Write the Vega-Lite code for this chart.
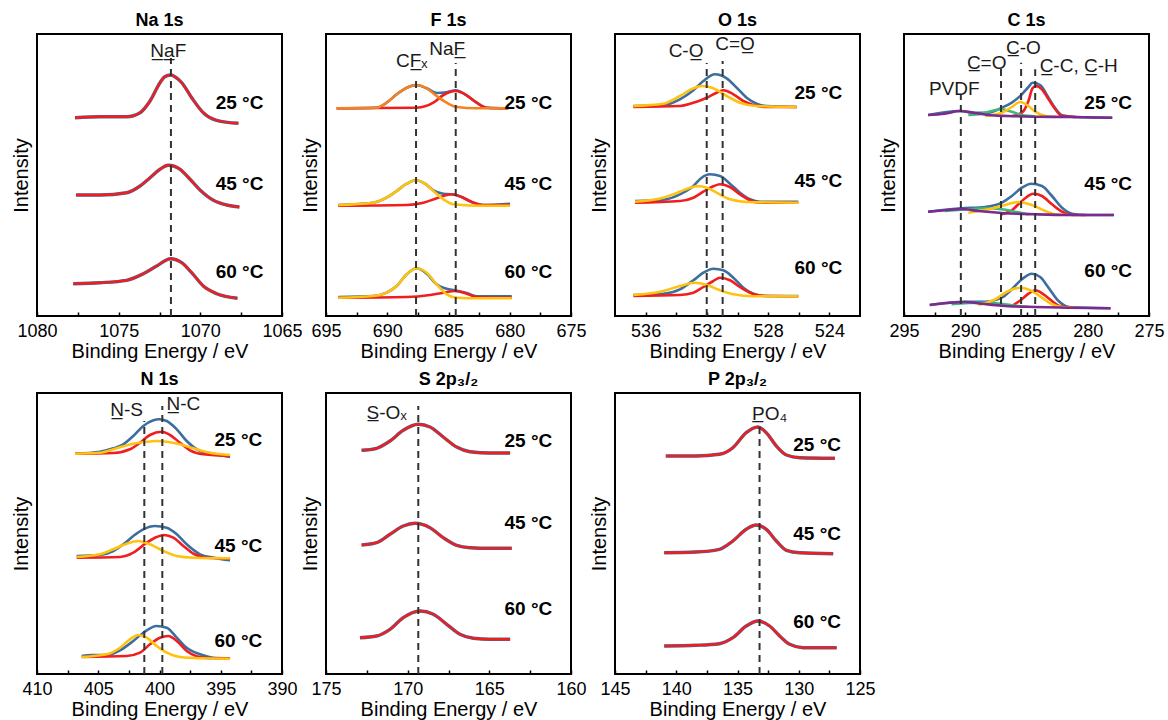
{
"$schema":"https://vega.github.io/schema/vega-lite/v6.json",
"padding":{"left":10,"top":11,"right":5,"bottom":5},
"config":{
 "font":"Liberation Sans",
 "view":{"stroke":"#000","strokeWidth":2},
 "axisX":{"domain":false,"grid":false,"tickColor":"#000","tickSize":-4,"tickWidth":1.5,"labelFontSize":18,"labelColor":"#000","labelFlush":false,"labelOverlap":false,"labelPadding":10,"titleFontSize":20,"titleFontWeight":"normal","titleColor":"#000","titlePadding":1},
 "axisY":{"domain":false,"grid":false,"ticks":false,"labels":false,"titleFontSize":20,"titleFontWeight":"normal","titleColor":"#000","titlePadding":6},
 "title":{"fontSize":18,"fontWeight":"bold","offset":4,"color":"#000"},
 "line":{"strokeWidth":2.6,"interpolate":"monotone"},
 "text":{"color":"#1a1a1a","baseline":"middle","align":"center"}
},
"bounds":"flush",
"columns":4,
"spacing":{"row":77,"column":44},
"concat":[
{
 "width":245,"height":282,"title":"Na 1s",
 "data":{"values":[
 {"t":"25","x":1077.67,"y":198.3},{"t":"25","x":1076.14,"y":199.3},{"t":"25","x":1074.51,"y":199.3},{"t":"25","x":1073.69,"y":203.3},{"t":"25","x":1073.08,"y":215},{"t":"25","x":1072.47,"y":233.3},{"t":"25","x":1072.2,"y":239},{"t":"25","x":1071.82,"y":241},{"t":"25","x":1071.35,"y":236.7},{"t":"25","x":1071.14,"y":233.3},{"t":"25","x":1070.53,"y":218.3},{"t":"25","x":1069.82,"y":203.3},{"t":"25","x":1069.0,"y":195.7},{"t":"25","x":1067.67,"y":192.7},
 {"t":"45","x":1077.61,"y":121},{"t":"45","x":1076.14,"y":121},{"t":"45","x":1074.51,"y":123.3},{"t":"45","x":1073.69,"y":130},{"t":"45","x":1073.08,"y":138.3},{"t":"45","x":1072.47,"y":146.7},{"t":"45","x":1071.96,"y":150.7},{"t":"45","x":1071.24,"y":146.7},{"t":"45","x":1070.63,"y":136.7},{"t":"45","x":1070.02,"y":126},{"t":"45","x":1069.2,"y":115.7},{"t":"45","x":1068.39,"y":111},{"t":"45","x":1067.61,"y":109},
 {"t":"60","x":1077.78,"y":32.3},{"t":"60","x":1076.14,"y":33.3},{"t":"60","x":1074.51,"y":35.7},{"t":"60","x":1073.49,"y":42.3},{"t":"60","x":1072.67,"y":50},{"t":"60","x":1071.82,"y":57.3},{"t":"60","x":1071.14,"y":53.3},{"t":"60","x":1070.53,"y":43.3},{"t":"60","x":1069.82,"y":30},{"t":"60","x":1069.0,"y":22.3},{"t":"60","x":1067.73,"y":17.7}
 ]},
 "encoding":{
  "x":{"field":"x","type":"quantitative","scale":{"domain":[1065,1080],"reverse":true,"nice":false,"zero":false},"axis":{"title":"Binding Energy / eV","format":"d","values":[1080,1077.5,1075,1072.5,1070,1067.5,1065],"labelExpr":"datum.value % 5 == 0 ? datum.label : ''"}},
  "y":{"field":"y","type":"quantitative","scale":{"domain":[0,282],"nice":false,"zero":false},"axis":{"title":"Intensity"}}
 },
 "layer":[
  {"mark":{"type":"line","color":"#3C6E9F","strokeWidth":3.4},"encoding":{"detail":{"field":"t"}}},
  {"mark":{"type":"line","color":"#F01E1E","strokeWidth":2.4},"encoding":{"detail":{"field":"t"}}},
  {"data":{"values":[{"x":1071.8,"y":0,"y2":258}]},"mark":{"type":"rule","strokeDash":[7,5],"strokeWidth":2,"color":"#333"},"encoding":{"y2":{"field":"y2"}}},
  {"data":{"values":[{"x":1067.6,"y":213,"l":"25 °C"},{"x":1067.6,"y":132.3,"l":"45 °C"},{"x":1067.6,"y":44.3,"l":"60 °C"}]},"mark":{"type":"text","fontWeight":"bold","fontSize":19,"color":"#000"},"encoding":{"text":{"field":"l"}}},
  {"data":{"values":[{"x":1071.96,"y":265,"l":"N\u0332a\u0332F"}]},"mark":{"type":"text","fontSize":19},"encoding":{"text":{"field":"l"}}}
 ]
},
{
 "width":245,"height":282,"title":"F 1s",
 "data":{"values":[
 {"t":"25","s":"blue","x":694.13,"y":207.7},{"t":"25","s":"blue","x":690.86,"y":208.3},{"t":"25","s":"blue","x":690.05,"y":213.3},{"t":"25","s":"blue","x":689.23,"y":221.7},{"t":"25","s":"blue","x":688.41,"y":228.3},{"t":"25","s":"blue","x":687.65,"y":231},{"t":"25","s":"blue","x":686.78,"y":227.7},{"t":"25","s":"blue","x":685.97,"y":223},{"t":"25","s":"blue","x":685.15,"y":223.7},{"t":"25","s":"blue","x":684.41,"y":225.7},{"t":"25","s":"blue","x":683.52,"y":220.7},{"t":"25","s":"blue","x":682.7,"y":213.3},{"t":"25","s":"blue","x":681.88,"y":208.3},{"t":"25","s":"blue","x":680.12,"y":207.7},
 {"t":"25","s":"red","x":694.13,"y":207.7},{"t":"25","s":"red","x":687.6,"y":208.3},{"t":"25","s":"red","x":686.24,"y":213.3},{"t":"25","s":"red","x":685.42,"y":221},{"t":"25","s":"red","x":684.41,"y":225},{"t":"25","s":"red","x":683.52,"y":220.7},{"t":"25","s":"red","x":682.7,"y":213.3},{"t":"25","s":"red","x":681.88,"y":208.3},{"t":"25","s":"red","x":680.12,"y":207.7},
 {"t":"25","s":"orange","x":694.13,"y":207.7},{"t":"25","s":"orange","x":690.86,"y":208.3},{"t":"25","s":"orange","x":690.05,"y":213.3},{"t":"25","s":"orange","x":689.23,"y":221.7},{"t":"25","s":"orange","x":688.41,"y":228.3},{"t":"25","s":"orange","x":687.65,"y":231},{"t":"25","s":"orange","x":686.78,"y":227.7},{"t":"25","s":"orange","x":685.97,"y":220},{"t":"25","s":"orange","x":685.15,"y":213.3},{"t":"25","s":"orange","x":684.33,"y":209},{"t":"25","s":"orange","x":682.7,"y":207.7},{"t":"25","s":"orange","x":680.12,"y":207.7},
 {"t":"45","s":"blue","x":694.0,"y":111},{"t":"45","s":"blue","x":691.14,"y":113.3},{"t":"45","s":"blue","x":690.05,"y":118.3},{"t":"45","s":"blue","x":689.23,"y":125},{"t":"45","s":"blue","x":688.41,"y":132.3},{"t":"45","s":"blue","x":687.65,"y":135.7},{"t":"45","s":"blue","x":686.92,"y":132.3},{"t":"45","s":"blue","x":686.24,"y":125.7},{"t":"45","s":"blue","x":685.42,"y":122.3},{"t":"45","s":"blue","x":684.74,"y":121.7},{"t":"45","s":"blue","x":683.93,"y":119},{"t":"45","s":"blue","x":683.11,"y":114},{"t":"45","s":"blue","x":682.16,"y":111},{"t":"45","s":"blue","x":679.98,"y":112.3},
 {"t":"45","s":"red","x":694.0,"y":110.3},{"t":"45","s":"red","x":688.41,"y":111},{"t":"45","s":"red","x":687.05,"y":113.3},{"t":"45","s":"red","x":685.97,"y":117.7},{"t":"45","s":"red","x":685.15,"y":121},{"t":"45","s":"red","x":684.74,"y":121.7},{"t":"45","s":"red","x":683.93,"y":119},{"t":"45","s":"red","x":683.11,"y":114},{"t":"45","s":"red","x":682.16,"y":111},{"t":"45","s":"red","x":679.98,"y":111},
 {"t":"45","s":"yellow","x":694.0,"y":111},{"t":"45","s":"yellow","x":691.14,"y":113.3},{"t":"45","s":"yellow","x":690.05,"y":118.3},{"t":"45","s":"yellow","x":689.23,"y":125},{"t":"45","s":"yellow","x":688.41,"y":132.3},{"t":"45","s":"yellow","x":687.65,"y":135.7},{"t":"45","s":"yellow","x":686.92,"y":132.3},{"t":"45","s":"yellow","x":686.24,"y":125},{"t":"45","s":"yellow","x":685.42,"y":116.7},{"t":"45","s":"yellow","x":684.61,"y":111.7},{"t":"45","s":"yellow","x":682.7,"y":110.3},{"t":"45","s":"yellow","x":679.98,"y":110.3},
 {"t":"60","s":"blue","x":694.0,"y":19},{"t":"60","s":"blue","x":691.14,"y":20},{"t":"60","s":"blue","x":690.05,"y":23.3},{"t":"60","s":"blue","x":689.23,"y":30},{"t":"60","s":"blue","x":688.41,"y":41.7},{"t":"60","s":"blue","x":687.6,"y":47.7},{"t":"60","s":"blue","x":686.78,"y":42.3},{"t":"60","s":"blue","x":685.97,"y":31.7},{"t":"60","s":"blue","x":685.29,"y":27.7},{"t":"60","s":"blue","x":684.47,"y":25.7},{"t":"60","s":"blue","x":683.52,"y":23},{"t":"60","s":"blue","x":682.7,"y":19.7},{"t":"60","s":"blue","x":679.84,"y":19.7},
 {"t":"60","s":"red","x":694.0,"y":18.3},{"t":"60","s":"red","x":688.41,"y":19},{"t":"60","s":"red","x":686.51,"y":21},{"t":"60","s":"red","x":685.42,"y":23.3},{"t":"60","s":"red","x":684.47,"y":25},{"t":"60","s":"red","x":683.52,"y":22.3},{"t":"60","s":"red","x":682.7,"y":19},{"t":"60","s":"red","x":679.84,"y":18.3},
 {"t":"60","s":"yellow","x":694.0,"y":18.3},{"t":"60","s":"yellow","x":691.14,"y":20},{"t":"60","s":"yellow","x":690.05,"y":23.3},{"t":"60","s":"yellow","x":689.23,"y":30},{"t":"60","s":"yellow","x":688.41,"y":41.7},{"t":"60","s":"yellow","x":687.6,"y":47.7},{"t":"60","s":"yellow","x":686.78,"y":43.3},{"t":"60","s":"yellow","x":685.97,"y":31.7},{"t":"60","s":"yellow","x":685.15,"y":21.7},{"t":"60","s":"yellow","x":684.33,"y":18.3},{"t":"60","s":"yellow","x":682.7,"y":17.7},{"t":"60","s":"yellow","x":679.84,"y":17.7}
 ]},
 "encoding":{
  "x":{"field":"x","type":"quantitative","scale":{"domain":[675,695],"reverse":true,"nice":false,"zero":false},"axis":{"title":"Binding Energy / eV","format":"d","values":[695,692.5,690,687.5,685,682.5,680,677.5,675],"labelExpr":"datum.value % 5 == 0 ? datum.label : ''"}},
  "y":{"field":"y","type":"quantitative","scale":{"domain":[0,282],"nice":false,"zero":false},"axis":{"title":"Intensity"}}
 },
 "layer":[
  {"mark":"line","encoding":{"color":{"field":"s","type":"nominal","scale":{"domain":["blue","red","green","yellow","orange","purple"],"range":["#3C6E9F","#F01E1E","#3DB87A","#FFC20E","#F5821F","#7B2A8E"]},"legend":null},"detail":{"field":"t"}}},
  {"data":{"values":[{"x":687.65,"y":0,"y2":240},{"x":684.41,"y":0,"y2":253}]},"mark":{"type":"rule","strokeDash":[7,5],"strokeWidth":2,"color":"#333"},"encoding":{"y2":{"field":"y2"}}},
  {"data":{"values":[{"x":678.48,"y":213.3,"l":"25 °C"},{"x":678.48,"y":132.3,"l":"45 °C"},{"x":678.48,"y":44.3,"l":"60 °C"}]},"mark":{"type":"text","fontWeight":"bold","fontSize":19,"color":"#000"},"encoding":{"text":{"field":"l"}}},
  {"data":{"values":[{"x":688.0,"y":255,"l":"CF\u0332\u2093"},{"x":685.1,"y":266.7,"l":"NaF\u0332"}]},"mark":{"type":"text","fontSize":19},"encoding":{"text":{"field":"l"}}}
 ]
},
{
 "width":245,"height":282,"title":"O 1s",
 "data":{"values":[
 {"t":"25","s":"blue","x":536.8,"y":210},{"t":"25","s":"blue","x":534.84,"y":211},{"t":"25","s":"blue","x":533.76,"y":216.7},{"t":"25","s":"blue","x":532.88,"y":225.7},{"t":"25","s":"blue","x":532.23,"y":235},{"t":"25","s":"blue","x":531.47,"y":241.7},{"t":"25","s":"blue","x":530.71,"y":237.7},{"t":"25","s":"blue","x":530.05,"y":228.3},{"t":"25","s":"blue","x":529.4,"y":218.3},{"t":"25","s":"blue","x":528.75,"y":212.3},{"t":"25","s":"blue","x":528.1,"y":210},{"t":"25","s":"blue","x":526.14,"y":209},
 {"t":"25","s":"red","x":536.8,"y":209},{"t":"25","s":"red","x":533.76,"y":210},{"t":"25","s":"red","x":532.67,"y":214.3},{"t":"25","s":"red","x":532.01,"y":218.3},{"t":"25","s":"red","x":531.36,"y":223.3},{"t":"25","s":"red","x":530.93,"y":225.7},{"t":"25","s":"red","x":530.27,"y":221.7},{"t":"25","s":"red","x":529.62,"y":215},{"t":"25","s":"red","x":528.97,"y":211},{"t":"25","s":"red","x":528.1,"y":209},{"t":"25","s":"red","x":526.14,"y":209},
 {"t":"25","s":"yellow","x":536.8,"y":210},{"t":"25","s":"yellow","x":534.84,"y":212.3},{"t":"25","s":"yellow","x":533.76,"y":220},{"t":"25","s":"yellow","x":532.88,"y":227.7},{"t":"25","s":"yellow","x":532.34,"y":230},{"t":"25","s":"yellow","x":531.58,"y":227.7},{"t":"25","s":"yellow","x":530.71,"y":220},{"t":"25","s":"yellow","x":529.84,"y":213.3},{"t":"25","s":"yellow","x":528.75,"y":210},{"t":"25","s":"yellow","x":526.14,"y":209},
 {"t":"45","s":"blue","x":536.69,"y":115},{"t":"45","s":"blue","x":534.84,"y":116.3},{"t":"45","s":"blue","x":533.76,"y":121.7},{"t":"45","s":"blue","x":532.88,"y":130},{"t":"45","s":"blue","x":532.34,"y":138.3},{"t":"45","s":"blue","x":531.8,"y":141.7},{"t":"45","s":"blue","x":531.14,"y":140},{"t":"45","s":"blue","x":530.49,"y":132.3},{"t":"45","s":"blue","x":529.84,"y":123.3},{"t":"45","s":"blue","x":529.18,"y":116.7},{"t":"45","s":"blue","x":528.53,"y":114.3},{"t":"45","s":"blue","x":526.03,"y":114.3},
 {"t":"45","s":"red","x":536.69,"y":113.3},{"t":"45","s":"red","x":533.76,"y":115},{"t":"45","s":"red","x":532.88,"y":118.3},{"t":"45","s":"red","x":532.23,"y":124.3},{"t":"45","s":"red","x":531.58,"y":129.7},{"t":"45","s":"red","x":531.14,"y":131.7},{"t":"45","s":"red","x":530.49,"y":129},{"t":"45","s":"red","x":529.84,"y":121.7},{"t":"45","s":"red","x":529.18,"y":115.7},{"t":"45","s":"red","x":528.53,"y":113.3},{"t":"45","s":"red","x":526.03,"y":113.3},
 {"t":"45","s":"yellow","x":536.69,"y":114.3},{"t":"45","s":"yellow","x":534.84,"y":118.3},{"t":"45","s":"yellow","x":533.76,"y":124.3},{"t":"45","s":"yellow","x":533.1,"y":128.3},{"t":"45","s":"yellow","x":532.56,"y":129.7},{"t":"45","s":"yellow","x":532.01,"y":128.3},{"t":"45","s":"yellow","x":531.36,"y":123.3},{"t":"45","s":"yellow","x":530.49,"y":116.7},{"t":"45","s":"yellow","x":529.4,"y":114},{"t":"45","s":"yellow","x":526.03,"y":113.3},
 {"t":"60","s":"blue","x":536.8,"y":21},{"t":"60","s":"blue","x":534.84,"y":22.3},{"t":"60","s":"blue","x":533.76,"y":26.7},{"t":"60","s":"blue","x":532.88,"y":35.7},{"t":"60","s":"blue","x":532.23,"y":43.3},{"t":"60","s":"blue","x":531.58,"y":47.3},{"t":"60","s":"blue","x":530.93,"y":45.7},{"t":"60","s":"blue","x":530.27,"y":38.3},{"t":"60","s":"blue","x":529.62,"y":28.3},{"t":"60","s":"blue","x":528.97,"y":22.3},{"t":"60","s":"blue","x":528.1,"y":20},{"t":"60","s":"blue","x":526.03,"y":20},
 {"t":"60","s":"red","x":536.8,"y":20},{"t":"60","s":"red","x":533.76,"y":21},{"t":"60","s":"red","x":532.88,"y":23.3},{"t":"60","s":"red","x":532.23,"y":29},{"t":"60","s":"red","x":531.58,"y":35},{"t":"60","s":"red","x":531.14,"y":38.3},{"t":"60","s":"red","x":530.49,"y":35.7},{"t":"60","s":"red","x":529.84,"y":29},{"t":"60","s":"red","x":529.18,"y":23.3},{"t":"60","s":"red","x":528.53,"y":20.3},{"t":"60","s":"red","x":526.03,"y":19.7},
 {"t":"60","s":"yellow","x":536.8,"y":21},{"t":"60","s":"yellow","x":534.84,"y":25},{"t":"60","s":"yellow","x":533.76,"y":30},{"t":"60","s":"yellow","x":532.78,"y":33.3},{"t":"60","s":"yellow","x":532.01,"y":31},{"t":"60","s":"yellow","x":531.14,"y":25.7},{"t":"60","s":"yellow","x":530.27,"y":21.7},{"t":"60","s":"yellow","x":528.97,"y":19.7},{"t":"60","s":"yellow","x":526.03,"y":19.7}
 ]},
 "encoding":{
  "x":{"field":"x","type":"quantitative","scale":{"domain":[522,538],"reverse":true,"nice":false,"zero":false},"axis":{"title":"Binding Energy / eV","format":"d","values":[536,534,532,530,528,526,524],"labelExpr":"datum.value % 4 == 0 ? datum.label : ''"}},
  "y":{"field":"y","type":"quantitative","scale":{"domain":[0,282],"nice":false,"zero":false},"axis":{"title":"Intensity"}}
 },
 "layer":[
  {"mark":"line","encoding":{"color":{"field":"s","type":"nominal","scale":{"domain":["blue","red","green","yellow","orange","purple"],"range":["#3C6E9F","#F01E1E","#3DB87A","#FFC20E","#F5821F","#7B2A8E"]},"legend":null},"detail":{"field":"t"}}},
  {"data":{"values":[{"x":532.01,"y":0,"y2":253},{"x":530.97,"y":0,"y2":255}]},"mark":{"type":"rule","strokeDash":[7,5],"strokeWidth":2,"color":"#333"},"encoding":{"y2":{"field":"y2"}}},
  {"data":{"values":[{"x":524.72,"y":223.3,"l":"25 °C"},{"x":524.72,"y":135,"l":"45 °C"},{"x":524.72,"y":48.3,"l":"60 °C"}]},"mark":{"type":"text","fontWeight":"bold","fontSize":19,"color":"#000"},"encoding":{"text":{"field":"l"}}},
  {"data":{"values":[{"x":533.36,"y":265,"l":"C-O\u0332"},{"x":530.16,"y":271.7,"l":"C=O\u0332"}]},"mark":{"type":"text","fontSize":19},"encoding":{"text":{"field":"l"}}}
 ]
},
{
 "width":245,"height":282,"title":"C 1s",
 "data":{"values":[
 {"t":"25","s":"blue","x":293.03,"y":201},{"t":"25","s":"blue","x":290.44,"y":205},{"t":"25","s":"blue","x":289.21,"y":203.3},{"t":"25","s":"blue","x":288.11,"y":203.3},{"t":"25","s":"blue","x":287.02,"y":208.3},{"t":"25","s":"blue","x":286.2,"y":213.3},{"t":"25","s":"blue","x":285.38,"y":221.7},{"t":"25","s":"blue","x":284.84,"y":229},{"t":"25","s":"blue","x":284.51,"y":233.3},{"t":"25","s":"blue","x":283.88,"y":231},{"t":"25","s":"blue","x":283.2,"y":218.3},{"t":"25","s":"blue","x":282.65,"y":207.7},{"t":"25","s":"blue","x":282.1,"y":200.7},{"t":"25","s":"blue","x":281.01,"y":199},{"t":"25","s":"blue","x":278.0,"y":198.3},
 {"t":"25","s":"red","x":286.2,"y":200},{"t":"25","s":"red","x":285.38,"y":203.3},{"t":"25","s":"red","x":284.84,"y":215},{"t":"25","s":"red","x":284.51,"y":227.7},{"t":"25","s":"red","x":284.23,"y":230},{"t":"25","s":"red","x":283.74,"y":226.7},{"t":"25","s":"red","x":283.2,"y":216.7},{"t":"25","s":"red","x":282.65,"y":206.7},{"t":"25","s":"red","x":282.1,"y":200},{"t":"25","s":"red","x":281.01,"y":199},
 {"t":"25","s":"green","x":289.75,"y":201},{"t":"25","s":"green","x":288.66,"y":202.3},{"t":"25","s":"green","x":287.84,"y":205},{"t":"25","s":"green","x":287.02,"y":206.7},{"t":"25","s":"green","x":286.2,"y":204.3},{"t":"25","s":"green","x":285.38,"y":201},{"t":"25","s":"green","x":284.29,"y":199.7},
 {"t":"25","s":"yellow","x":288.39,"y":200},{"t":"25","s":"yellow","x":287.02,"y":203.3},{"t":"25","s":"yellow","x":286.2,"y":209},{"t":"25","s":"yellow","x":285.52,"y":214},{"t":"25","s":"yellow","x":284.84,"y":210},{"t":"25","s":"yellow","x":284.29,"y":204.3},{"t":"25","s":"yellow","x":283.47,"y":200},{"t":"25","s":"yellow","x":282.65,"y":199},
 {"t":"25","s":"purple","x":293.03,"y":201},{"t":"25","s":"purple","x":291.67,"y":202.3},{"t":"25","s":"purple","x":290.44,"y":205},{"t":"25","s":"purple","x":289.21,"y":203},{"t":"25","s":"purple","x":288.11,"y":201},{"t":"25","s":"purple","x":286.48,"y":200},{"t":"25","s":"purple","x":284.29,"y":199.3},{"t":"25","s":"purple","x":281.56,"y":199},{"t":"25","s":"purple","x":278.0,"y":198.3},
 {"t":"45","s":"blue","x":293.03,"y":104.3},{"t":"45","s":"blue","x":290.3,"y":107.7},{"t":"45","s":"blue","x":288.39,"y":109},{"t":"45","s":"blue","x":287.02,"y":113.3},{"t":"45","s":"blue","x":286.2,"y":120},{"t":"45","s":"blue","x":285.38,"y":128.3},{"t":"45","s":"blue","x":284.62,"y":132.3},{"t":"45","s":"blue","x":283.74,"y":130},{"t":"45","s":"blue","x":282.92,"y":120},{"t":"45","s":"blue","x":282.1,"y":108.3},{"t":"45","s":"blue","x":281.28,"y":102.3},{"t":"45","s":"blue","x":280.19,"y":101},{"t":"45","s":"blue","x":277.87,"y":101},
 {"t":"45","s":"red","x":287.02,"y":101.7},{"t":"45","s":"red","x":286.2,"y":105.7},{"t":"45","s":"red","x":285.38,"y":115},{"t":"45","s":"red","x":284.43,"y":122.3},{"t":"45","s":"red","x":283.74,"y":120},{"t":"45","s":"red","x":282.92,"y":111.7},{"t":"45","s":"red","x":282.1,"y":104.3},{"t":"45","s":"red","x":281.28,"y":101},{"t":"45","s":"red","x":280.19,"y":101},
 {"t":"45","s":"green","x":291.67,"y":105},{"t":"45","s":"green","x":289.75,"y":106.7},{"t":"45","s":"green","x":288.39,"y":107.7},{"t":"45","s":"green","x":287.02,"y":106.7},{"t":"45","s":"green","x":285.93,"y":104.3},{"t":"45","s":"green","x":284.84,"y":101.7},
 {"t":"45","s":"yellow","x":289.75,"y":103.3},{"t":"45","s":"yellow","x":288.11,"y":106.7},{"t":"45","s":"yellow","x":286.75,"y":111},{"t":"45","s":"yellow","x":285.66,"y":114},{"t":"45","s":"yellow","x":284.56,"y":111},{"t":"45","s":"yellow","x":283.47,"y":105},{"t":"45","s":"yellow","x":282.65,"y":101.7},{"t":"45","s":"yellow","x":281.56,"y":101},
 {"t":"45","s":"purple","x":293.03,"y":104.3},{"t":"45","s":"purple","x":291.67,"y":105.7},{"t":"45","s":"purple","x":290.3,"y":107},{"t":"45","s":"purple","x":288.93,"y":105},{"t":"45","s":"purple","x":287.02,"y":103},{"t":"45","s":"purple","x":284.29,"y":101.7},{"t":"45","s":"purple","x":281.56,"y":101},{"t":"45","s":"purple","x":277.87,"y":101},
 {"t":"60","s":"blue","x":292.9,"y":11},{"t":"60","s":"blue","x":290.03,"y":14.3},{"t":"60","s":"blue","x":288.39,"y":14.3},{"t":"60","s":"blue","x":287.02,"y":18.3},{"t":"60","s":"blue","x":286.2,"y":26.7},{"t":"60","s":"blue","x":285.38,"y":36.7},{"t":"60","s":"blue","x":284.56,"y":42.3},{"t":"60","s":"blue","x":283.88,"y":39},{"t":"60","s":"blue","x":283.2,"y":28.3},{"t":"60","s":"blue","x":282.38,"y":15},{"t":"60","s":"blue","x":281.56,"y":9},{"t":"60","s":"blue","x":278.14,"y":7.7},
 {"t":"60","s":"red","x":286.2,"y":10},{"t":"60","s":"red","x":285.38,"y":16.7},{"t":"60","s":"red","x":284.84,"y":22.3},{"t":"60","s":"red","x":284.29,"y":25.7},{"t":"60","s":"red","x":283.61,"y":21.7},{"t":"60","s":"red","x":282.92,"y":15},{"t":"60","s":"red","x":282.24,"y":9.7},{"t":"60","s":"red","x":281.01,"y":8.3},
 {"t":"60","s":"green","x":291.12,"y":11.7},{"t":"60","s":"green","x":289.75,"y":13},{"t":"60","s":"green","x":288.39,"y":13.3},{"t":"60","s":"green","x":287.02,"y":12.3},{"t":"60","s":"green","x":285.93,"y":10.3},{"t":"60","s":"green","x":284.84,"y":9},
 {"t":"60","s":"yellow","x":288.93,"y":11},{"t":"60","s":"yellow","x":287.57,"y":16.7},{"t":"60","s":"yellow","x":286.48,"y":25},{"t":"60","s":"yellow","x":285.52,"y":28.3},{"t":"60","s":"yellow","x":284.56,"y":25},{"t":"60","s":"yellow","x":283.74,"y":18.3},{"t":"60","s":"yellow","x":282.92,"y":11.7},{"t":"60","s":"yellow","x":282.1,"y":9},{"t":"60","s":"yellow","x":281.01,"y":8.3},
 {"t":"60","s":"purple","x":292.9,"y":11},{"t":"60","s":"purple","x":291.39,"y":13},{"t":"60","s":"purple","x":290.03,"y":14},{"t":"60","s":"purple","x":288.66,"y":12.3},{"t":"60","s":"purple","x":287.02,"y":10.3},{"t":"60","s":"purple","x":284.29,"y":9},{"t":"60","s":"purple","x":281.56,"y":8.3},{"t":"60","s":"purple","x":278.14,"y":7.7}
 ]},
 "encoding":{
  "x":{"field":"x","type":"quantitative","scale":{"domain":[275,295],"reverse":true,"nice":false,"zero":false},"axis":{"title":"Binding Energy / eV","format":"d","values":[295,292.5,290,287.5,285,282.5,280,277.5,275],"labelExpr":"datum.value % 5 == 0 ? datum.label : ''"}},
  "y":{"field":"y","type":"quantitative","scale":{"domain":[0,282],"nice":false,"zero":false},"axis":{"title":"Intensity"}}
 },
 "layer":[
  {"mark":"line","encoding":{"color":{"field":"s","type":"nominal","scale":{"domain":["blue","red","green","yellow","orange","purple"],"range":["#3C6E9F","#F01E1E","#3DB87A","#FFC20E","#F5821F","#7B2A8E"]},"legend":null},"detail":{"field":"t"}}},
  {"data":{"values":[{"x":290.36,"y":0,"y2":221.7},{"x":287.08,"y":0,"y2":248.3},{"x":285.44,"y":0,"y2":253.3},{"x":284.29,"y":0,"y2":246.7}]},"mark":{"type":"rule","strokeDash":[7,5],"strokeWidth":2,"color":"#333"},"encoding":{"y2":{"field":"y2"}}},
  {"data":{"values":[{"x":278.33,"y":213.3,"l":"25 °C"},{"x":278.33,"y":132.3,"l":"45 °C"},{"x":278.33,"y":45,"l":"60 °C"}]},"mark":{"type":"text","fontWeight":"bold","fontSize":19,"color":"#000"},"encoding":{"text":{"field":"l"}}},
  {"data":{"values":[{"x":290.9,"y":226.7,"l":"PVDF"},{"x":288.25,"y":253.3,"l":"C\u0332=O"},{"x":285.25,"y":268.3,"l":"C\u0332-O"},{"x":280.74,"y":250,"l":"C\u0332-C, C\u0332-H"}]},"mark":{"type":"text","fontSize":19},"encoding":{"text":{"field":"l"}}}
 ]
},
{
 "width":245,"height":281,"title":"N 1s",
 "data":{"values":[
 {"t":"25","s":"blue","x":406.9,"y":220.3},{"t":"25","s":"blue","x":404.86,"y":222.3},{"t":"25","s":"blue","x":403.77,"y":225.7},{"t":"25","s":"blue","x":402.95,"y":229.7},{"t":"25","s":"blue","x":402.14,"y":238},{"t":"25","s":"blue","x":401.32,"y":248},{"t":"25","s":"blue","x":400.5,"y":253.7},{"t":"25","s":"blue","x":400.01,"y":254.7},{"t":"25","s":"blue","x":399.41,"y":253},{"t":"25","s":"blue","x":398.59,"y":244.7},{"t":"25","s":"blue","x":397.78,"y":233},{"t":"25","s":"blue","x":396.69,"y":223},{"t":"25","s":"blue","x":395.61,"y":220.3},{"t":"25","s":"blue","x":394.24,"y":217},
 {"t":"25","s":"red","x":406.9,"y":220.3},{"t":"25","s":"red","x":403.77,"y":221},{"t":"25","s":"red","x":402.41,"y":224.7},{"t":"25","s":"red","x":401.59,"y":231.3},{"t":"25","s":"red","x":400.78,"y":239},{"t":"25","s":"red","x":399.82,"y":242.3},{"t":"25","s":"red","x":399.14,"y":239},{"t":"25","s":"red","x":398.33,"y":231.3},{"t":"25","s":"red","x":397.51,"y":223.7},{"t":"25","s":"red","x":396.42,"y":219.7},{"t":"25","s":"red","x":394.24,"y":218},
 {"t":"25","s":"yellow","x":406.9,"y":220.3},{"t":"25","s":"yellow","x":404.86,"y":221.3},{"t":"25","s":"yellow","x":403.5,"y":225.7},{"t":"25","s":"yellow","x":402.14,"y":230.3},{"t":"25","s":"yellow","x":401.05,"y":232.3},{"t":"25","s":"yellow","x":400.23,"y":233},{"t":"25","s":"yellow","x":399.41,"y":232.3},{"t":"25","s":"yellow","x":398.33,"y":229.7},{"t":"25","s":"yellow","x":397.24,"y":225.7},{"t":"25","s":"yellow","x":395.88,"y":221.3},{"t":"25","s":"yellow","x":394.24,"y":219},
 {"t":"45","s":"blue","x":406.76,"y":118},{"t":"45","s":"blue","x":404.86,"y":119},{"t":"45","s":"blue","x":403.77,"y":123},{"t":"45","s":"blue","x":402.95,"y":129.7},{"t":"45","s":"blue","x":402.14,"y":138},{"t":"45","s":"blue","x":401.32,"y":144.7},{"t":"45","s":"blue","x":400.37,"y":148},{"t":"45","s":"blue","x":399.41,"y":146.3},{"t":"45","s":"blue","x":398.59,"y":139.7},{"t":"45","s":"blue","x":397.78,"y":129.7},{"t":"45","s":"blue","x":396.69,"y":119.7},{"t":"45","s":"blue","x":395.61,"y":116.3},{"t":"45","s":"blue","x":394.24,"y":113.7},
 {"t":"45","s":"red","x":406.76,"y":116.3},{"t":"45","s":"red","x":403.22,"y":117},{"t":"45","s":"red","x":402.14,"y":121.3},{"t":"45","s":"red","x":401.05,"y":131.3},{"t":"45","s":"red","x":400.23,"y":137},{"t":"45","s":"red","x":399.63,"y":139},{"t":"45","s":"red","x":398.87,"y":136.3},{"t":"45","s":"red","x":398.05,"y":128},{"t":"45","s":"red","x":397.24,"y":120.3},{"t":"45","s":"red","x":396.15,"y":116.3},{"t":"45","s":"red","x":394.24,"y":115.7},
 {"t":"45","s":"yellow","x":406.76,"y":117},{"t":"45","s":"yellow","x":404.86,"y":119.7},{"t":"45","s":"yellow","x":403.77,"y":124.7},{"t":"45","s":"yellow","x":402.68,"y":130.3},{"t":"45","s":"yellow","x":401.73,"y":133},{"t":"45","s":"yellow","x":400.78,"y":129.7},{"t":"45","s":"yellow","x":399.69,"y":123},{"t":"45","s":"yellow","x":398.59,"y":118},{"t":"45","s":"yellow","x":397.24,"y":116.3},{"t":"45","s":"yellow","x":394.24,"y":115.7},
 {"t":"60","s":"blue","x":406.35,"y":18},{"t":"60","s":"blue","x":405.54,"y":19},{"t":"60","s":"blue","x":404.31,"y":19},{"t":"60","s":"blue","x":403.22,"y":23.7},{"t":"60","s":"blue","x":402.14,"y":33},{"t":"60","s":"blue","x":401.32,"y":41.3},{"t":"60","s":"blue","x":400.23,"y":48},{"t":"60","s":"blue","x":399.41,"y":46.3},{"t":"60","s":"blue","x":398.59,"y":36.3},{"t":"60","s":"blue","x":397.78,"y":26.3},{"t":"60","s":"blue","x":396.69,"y":19.7},{"t":"60","s":"blue","x":395.61,"y":16.3},{"t":"60","s":"blue","x":394.24,"y":15.7},
 {"t":"60","s":"red","x":406.35,"y":17},{"t":"60","s":"red","x":402.68,"y":18},{"t":"60","s":"red","x":401.59,"y":21.3},{"t":"60","s":"red","x":400.78,"y":29.7},{"t":"60","s":"red","x":399.96,"y":36.3},{"t":"60","s":"red","x":399.28,"y":38},{"t":"60","s":"red","x":398.59,"y":33},{"t":"60","s":"red","x":397.78,"y":23},{"t":"60","s":"red","x":396.97,"y":17.7},{"t":"60","s":"red","x":395.88,"y":15.7},{"t":"60","s":"red","x":394.24,"y":15.7},
 {"t":"60","s":"yellow","x":406.35,"y":17},{"t":"60","s":"yellow","x":404.31,"y":19.7},{"t":"60","s":"yellow","x":403.22,"y":26.3},{"t":"60","s":"yellow","x":402.41,"y":34.7},{"t":"60","s":"yellow","x":401.73,"y":39},{"t":"60","s":"yellow","x":401.05,"y":36.3},{"t":"60","s":"yellow","x":400.23,"y":28},{"t":"60","s":"yellow","x":399.41,"y":21.3},{"t":"60","s":"yellow","x":398.33,"y":17},{"t":"60","s":"yellow","x":396.69,"y":15.7},{"t":"60","s":"yellow","x":394.24,"y":15.3}
 ]},
 "encoding":{
  "x":{"field":"x","type":"quantitative","scale":{"domain":[390,410],"reverse":true,"nice":false,"zero":false},"axis":{"title":"Binding Energy / eV","format":"d","values":[410,407.5,405,402.5,400,397.5,395,392.5,390],"labelExpr":"datum.value % 5 == 0 ? datum.label : ''"}},
  "y":{"field":"y","type":"quantitative","scale":{"domain":[0,281],"nice":false,"zero":false},"axis":{"title":"Intensity"}}
 },
 "layer":[
  {"mark":"line","encoding":{"color":{"field":"s","type":"nominal","scale":{"domain":["blue","red","green","yellow","orange","purple"],"range":["#3C6E9F","#F01E1E","#3DB87A","#FFC20E","#F5821F","#7B2A8E"]},"legend":null},"detail":{"field":"t"}}},
  {"data":{"values":[{"x":401.24,"y":0,"y2":253},{"x":399.77,"y":0,"y2":268}]},"mark":{"type":"rule","strokeDash":[7,5],"strokeWidth":2,"color":"#333"},"encoding":{"y2":{"field":"y2"}}},
  {"data":{"values":[{"x":393.56,"y":233.7,"l":"25 °C"},{"x":393.56,"y":128,"l":"45 °C"},{"x":393.56,"y":33,"l":"60 °C"}]},"mark":{"type":"text","fontWeight":"bold","fontSize":19,"color":"#000"},"encoding":{"text":{"field":"l"}}},
  {"data":{"values":[{"x":402.68,"y":263.7,"l":"N\u0332-S"},{"x":398.05,"y":269.7,"l":"N\u0332-C"}]},"mark":{"type":"text","fontSize":19},"encoding":{"text":{"field":"l"}}}
 ]
},
{
 "width":245,"height":281,"title":"S 2p\u2083/\u2082",
 "data":{"values":[
 {"t":"25","x":172.82,"y":223.7},{"t":"25","x":171.9,"y":225.7},{"t":"25","x":171.08,"y":233},{"t":"25","x":170.27,"y":243.7},{"t":"25","x":169.35,"y":249.7},{"t":"25","x":168.63,"y":247},{"t":"25","x":167.82,"y":237},{"t":"25","x":167.0,"y":227},{"t":"25","x":166.18,"y":222.3},{"t":"25","x":164.96,"y":221},{"t":"25","x":163.73,"y":221},
 {"t":"45","x":172.82,"y":129},{"t":"45","x":171.9,"y":131.3},{"t":"45","x":171.08,"y":139.7},{"t":"45","x":170.27,"y":148},{"t":"45","x":169.55,"y":150.7},{"t":"45","x":168.63,"y":146.3},{"t":"45","x":167.82,"y":136.3},{"t":"45","x":167.0,"y":128.7},{"t":"45","x":166.18,"y":126.3},{"t":"45","x":164.96,"y":125.7},{"t":"45","x":163.63,"y":125.7},
 {"t":"60","x":172.92,"y":36.3},{"t":"60","x":171.9,"y":38},{"t":"60","x":171.08,"y":44.7},{"t":"60","x":170.27,"y":56.3},{"t":"60","x":169.24,"y":63},{"t":"60","x":168.43,"y":59.7},{"t":"60","x":167.61,"y":49.7},{"t":"60","x":166.8,"y":39.7},{"t":"60","x":165.98,"y":35.7},{"t":"60","x":164.96,"y":34.7},{"t":"60","x":163.73,"y":34.7}
 ]},
 "encoding":{
  "x":{"field":"x","type":"quantitative","scale":{"domain":[160,175],"reverse":true,"nice":false,"zero":false},"axis":{"title":"Binding Energy / eV","format":"d","values":[175,172.5,170,167.5,165,162.5,160],"labelExpr":"datum.value % 5 == 0 ? datum.label : ''"}},
  "y":{"field":"y","type":"quantitative","scale":{"domain":[0,281],"nice":false,"zero":false},"axis":{"title":"Intensity"}}
 },
 "layer":[
  {"mark":{"type":"line","color":"#3C6E9F","strokeWidth":3.4},"encoding":{"detail":{"field":"t"}}},
  {"mark":{"type":"line","color":"#F01E1E","strokeWidth":2.4},"encoding":{"detail":{"field":"t"}}},
  {"data":{"values":[{"x":169.35,"y":0,"y2":268}]},"mark":{"type":"rule","strokeDash":[7,5],"strokeWidth":2,"color":"#333"},"encoding":{"y2":{"field":"y2"}}},
  {"data":{"values":[{"x":162.61,"y":233,"l":"25 °C"},{"x":162.61,"y":151.3,"l":"45 °C"},{"x":162.61,"y":64.7,"l":"60 °C"}]},"mark":{"type":"text","fontWeight":"bold","fontSize":19,"color":"#000"},"encoding":{"text":{"field":"l"}}},
  {"data":{"values":[{"x":171.29,"y":261.3,"l":"S\u0332-O\u2093"}]},"mark":{"type":"text","fontSize":19},"encoding":{"text":{"field":"l"}}}
 ]
},
{
 "width":245,"height":281,"title":"P 2p\u2083/\u2082",
 "data":{"values":[
 {"t":"25","x":140.85,"y":218},{"t":"25","x":138.39,"y":218},{"t":"25","x":136.48,"y":219.7},{"t":"25","x":135.38,"y":226.3},{"t":"25","x":134.29,"y":241.3},{"t":"25","x":133.33,"y":247},{"t":"25","x":132.65,"y":241.3},{"t":"25","x":131.83,"y":228},{"t":"25","x":131.01,"y":219},{"t":"25","x":129.92,"y":216.3},{"t":"25","x":127.05,"y":215.7},
 {"t":"45","x":140.98,"y":121.3},{"t":"45","x":138.39,"y":122},{"t":"45","x":136.48,"y":124.7},{"t":"45","x":135.38,"y":133},{"t":"45","x":134.29,"y":144.7},{"t":"45","x":133.47,"y":149},{"t":"45","x":132.65,"y":144.7},{"t":"45","x":131.83,"y":133},{"t":"45","x":131.01,"y":123.7},{"t":"45","x":129.92,"y":121.3},{"t":"45","x":127.19,"y":120.3},
 {"t":"60","x":140.98,"y":28},{"t":"60","x":138.39,"y":28.7},{"t":"60","x":136.48,"y":30.3},{"t":"60","x":135.38,"y":36.3},{"t":"60","x":134.29,"y":48},{"t":"60","x":133.33,"y":53},{"t":"60","x":132.38,"y":48},{"t":"60","x":131.56,"y":38},{"t":"60","x":130.74,"y":29.7},{"t":"60","x":129.64,"y":26.3},{"t":"60","x":126.91,"y":26.3}
 ]},
 "encoding":{
  "x":{"field":"x","type":"quantitative","scale":{"domain":[125,145],"reverse":true,"nice":false,"zero":false},"axis":{"title":"Binding Energy / eV","format":"d","values":[145,142.5,140,137.5,135,132.5,130,127.5,125],"labelExpr":"datum.value % 5 == 0 ? datum.label : ''"}},
  "y":{"field":"y","type":"quantitative","scale":{"domain":[0,281],"nice":false,"zero":false},"axis":{"title":"Intensity"}}
 },
 "layer":[
  {"mark":{"type":"line","color":"#3C6E9F","strokeWidth":3.4},"encoding":{"detail":{"field":"t"}}},
  {"mark":{"type":"line","color":"#F01E1E","strokeWidth":2.4},"encoding":{"detail":{"field":"t"}}},
  {"data":{"values":[{"x":133.2,"y":0,"y2":253}]},"mark":{"type":"rule","strokeDash":[7,5],"strokeWidth":2,"color":"#333"},"encoding":{"y2":{"field":"y2"}}},
  {"data":{"values":[{"x":128.5,"y":229,"l":"25 °C"},{"x":128.5,"y":140.3,"l":"45 °C"},{"x":128.5,"y":52.3,"l":"60 °C"}]},"mark":{"type":"text","fontWeight":"bold","fontSize":19,"color":"#000"},"encoding":{"text":{"field":"l"}}},
  {"data":{"values":[{"x":132.38,"y":260.3,"l":"P\u0332O\u2084"}]},"mark":{"type":"text","fontSize":19},"encoding":{"text":{"field":"l"}}}
 ]
}
]
}
